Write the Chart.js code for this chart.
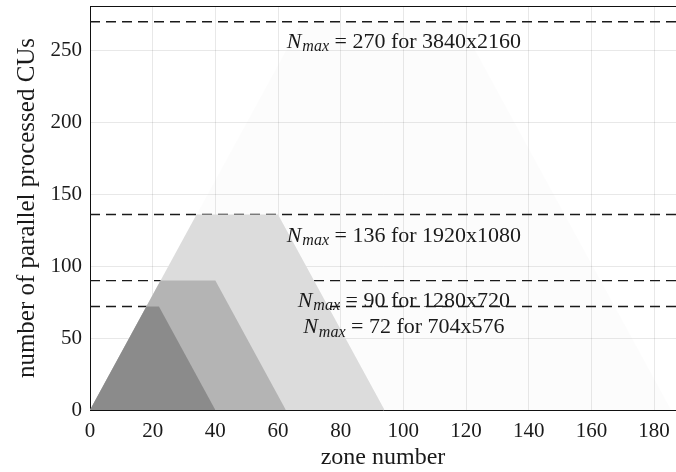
<!DOCTYPE html>
<html>
<head>
<meta charset="utf-8">
<script src="https://cdn.jsdelivr.net/npm/chart.js@4"></script>
<style>
    body { margin: 0; background: #fff; }
    canvas { display: block; }
</style>
</head>
<body>
<canvas id="chart" width="676" height="472"></canvas>
<script>
// zone number / parallel CUs corners of each trapezoid
const zones704 = [0, 18, 22, 40];
const cus704 = [0, 72, 72, 0];
const zones1280 = [0, 22.5, 40, 62.5];
const cus1280 = [0, 90, 90, 0];
const zones1920 = [0, 34, 60, 94];
const cus1920 = [0, 136, 136, 0];
const zones3840 = [0, 67.5, 118, 185.5];
const cus3840 = [0, 270, 270, 0];

const resolutions = ["704x576", "1280x720", "1920x1080", "3840x2160"];
const nmax = [72, 90, 136, 270];
const labelZones = [100, 100, 100, 100];
const labelCUs = [57.5, 75.7, 121, 256];

const xTicks = [0, 20, 40, 60, 80, 100, 120, 140, 160, 180];
const yTicks = [0, 50, 100, 150, 200, 250];
const X_MAX = 187;
const Y_MAX = 281;

const FONT = "'Liberation Serif', 'DejaVu Serif', serif";

function points (xs, ys) {
    return xs.map((x, i) => ({ x: x, y: ys[i] }));
}

function area (xs, ys, color) {
    return {
        data: points(xs, ys),
        backgroundColor: color,
        borderColor: "rgba(0,0,0,0)",
        borderWidth: 0,
        pointRadius: 0,
        fill: "origin",
        tension: 0,
    };
}

function dashed (value) {
    return {
        data: [{ x: 0, y: value }, { x: X_MAX, y: value }],
        borderColor: "#1a1a1a",
        borderWidth: 1.4,
        borderDash: [10, 6],
        pointRadius: 0,
        fill: false,
    };
}

const labelPlugin = {
    id: "nmaxLabels",
    afterDatasetsDraw (chart) {
        const ctx = chart.ctx;
        const { x, y } = chart.scales;
        const area = chart.chartArea;

        ctx.save();
        // top frame line
        ctx.strokeStyle = "#111";
        ctx.lineWidth = 1;
        ctx.beginPath();
        ctx.moveTo(area.left, area.top + 0.5);
        ctx.lineTo(area.right, area.top + 0.5);
        ctx.stroke();

        ctx.fillStyle = "#1a1a1a";
        ctx.textBaseline = "middle";
        for (let i = 0; i < nmax.length; i++) {
            const rest = " = " + nmax[i] + " for " + resolutions[i];
            ctx.font = "italic 22px " + FONT;
            const wN = ctx.measureText("N").width;
            ctx.font = "italic 16px " + FONT;
            const wSub = ctx.measureText("max").width;
            ctx.font = "22px " + FONT;
            const wRest = ctx.measureText(rest).width;

            let px = x.getPixelForValue(labelZones[i]) - (wN + wSub + wRest) / 2;
            const py = y.getPixelForValue(labelCUs[i]);
            ctx.textAlign = "left";
            ctx.font = "italic 22px " + FONT;
            ctx.fillText("N", px, py);
            px += wN + 1;
            ctx.font = "italic 16px " + FONT;
            ctx.fillText("max", px, py + 5);
            px += wSub;
            ctx.font = "22px " + FONT;
            ctx.fillText(rest, px, py);
        }
        ctx.restore();
    },
};

new Chart(document.getElementById("chart"), {
    type: "line",
    data: {
        datasets: [
            area(zones704, cus704, "#8b8b8b"),
            area(zones1280, cus1280, "#b4b4b4"),
            area(zones1920, cus1920, "#dcdcdc"),
            area(zones3840, cus3840, "rgba(0,0,0,0.012)"),
            dashed(nmax[0]),
            dashed(nmax[1]),
            dashed(nmax[2]),
            dashed(nmax[3]),
        ],
    },
    options: {
        responsive: false,
        animation: false,
        devicePixelRatio: 1,
        layout: { padding: { top: 6, right: 0, left: 0, bottom: 0 } },
        plugins: {
            legend: { display: false },
            tooltip: { enabled: false },
        },
        scales: {
            x: {
                type: "linear",
                min: 0,
                max: X_MAX,
                afterFit: (scale) => {
                    scale.height = 62;
                    scale.paddingLeft = 0;
                    scale.paddingRight = 0;
                },
                afterBuildTicks: (scale) => { scale.ticks = xTicks.map(v => ({ value: v })); },
                ticks: { padding: 9, color: "#1a1a1a", font: { family: FONT, size: 21 } },
                grid: { color: "rgba(0,0,0,0.09)", drawTicks: false },
                border: { color: "#111", width: 1 },
                title: {
                    display: true,
                    text: "zone number",
                    color: "#1a1a1a",
                    font: { family: FONT, size: 24 },
                    padding: { top: -2, bottom: 0 },
                },
            },
            y: {
                type: "linear",
                min: 0,
                max: Y_MAX,
                afterFit: (scale) => {
                    scale.width = 90;
                    scale.paddingTop = 0;
                    scale.paddingBottom = 0;
                },
                afterBuildTicks: (scale) => { scale.ticks = yTicks.map(v => ({ value: v })); },
                ticks: { padding: 8, color: "#1a1a1a", font: { family: FONT, size: 21 } },
                grid: { color: "rgba(0,0,0,0.09)", drawTicks: false },
                border: { color: "#111", width: 1 },
                title: {
                    display: true,
                    text: "number of parallel processed CUs",
                    color: "#1a1a1a",
                    font: { family: FONT, size: 25 },
                    padding: { top: 12, bottom: 0 },
                },
            },
        },
    },
    plugins: [labelPlugin],
});
</script>
</body>
</html>
